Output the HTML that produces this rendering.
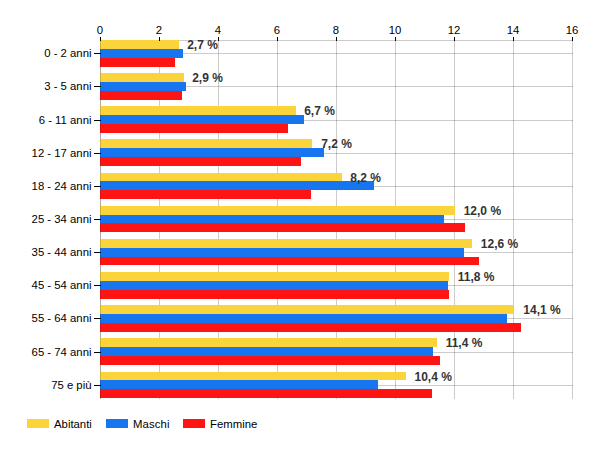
<!DOCTYPE html>
<html><head><meta charset="utf-8"><title>Chart</title>
<style>
html,body{margin:0;padding:0;background:#fff;}
body{width:600px;height:450px;overflow:hidden;font-family:"Liberation Sans",sans-serif;}
svg{display:block;}
svg text{font-family:"Liberation Sans",sans-serif;}
.ax{font-size:11.35px;fill:#000;}
.vl{font-size:12px;font-weight:bold;fill:#333;}
</style></head><body>
<svg width="600" height="450" viewBox="0 0 600 450">
<rect x="0" y="0" width="600" height="450" fill="#ffffff"/>
<g shape-rendering="crispEdges">
<rect x="100" y="40" width="473" height="1" fill="#000" fill-opacity="0.2"/>
<rect x="100" y="53" width="473" height="1" fill="#000" fill-opacity="0.2"/>
<rect x="100" y="86" width="473" height="1" fill="#000" fill-opacity="0.2"/>
<rect x="100" y="120" width="473" height="1" fill="#000" fill-opacity="0.2"/>
<rect x="100" y="153" width="473" height="1" fill="#000" fill-opacity="0.2"/>
<rect x="100" y="186" width="473" height="1" fill="#000" fill-opacity="0.2"/>
<rect x="100" y="219" width="473" height="1" fill="#000" fill-opacity="0.2"/>
<rect x="100" y="252" width="473" height="1" fill="#000" fill-opacity="0.2"/>
<rect x="100" y="285" width="473" height="1" fill="#000" fill-opacity="0.2"/>
<rect x="100" y="318" width="473" height="1" fill="#000" fill-opacity="0.2"/>
<rect x="100" y="352" width="473" height="1" fill="#000" fill-opacity="0.2"/>
<rect x="100" y="385" width="473" height="1" fill="#000" fill-opacity="0.2"/>
<rect x="100" y="40" width="1" height="359" fill="#000" fill-opacity="0.2"/>
<rect x="159" y="40" width="1" height="359" fill="#000" fill-opacity="0.2"/>
<rect x="218" y="40" width="1" height="359" fill="#000" fill-opacity="0.2"/>
<rect x="277" y="40" width="1" height="359" fill="#000" fill-opacity="0.2"/>
<rect x="336" y="40" width="1" height="359" fill="#000" fill-opacity="0.2"/>
<rect x="395" y="40" width="1" height="359" fill="#000" fill-opacity="0.2"/>
<rect x="454" y="40" width="1" height="359" fill="#000" fill-opacity="0.2"/>
<rect x="513" y="40" width="1" height="359" fill="#000" fill-opacity="0.2"/>
<rect x="572" y="40" width="1" height="359" fill="#000" fill-opacity="0.2"/>
<rect x="100" y="40" width="79" height="9" fill="#FAD43A"/>
<rect x="100" y="49" width="83" height="9" fill="#1875F0"/>
<rect x="100" y="58" width="75" height="9" fill="#FF1414"/>
<rect x="100" y="73" width="84" height="9" fill="#FAD43A"/>
<rect x="100" y="82" width="86" height="9" fill="#1875F0"/>
<rect x="100" y="91" width="82" height="9" fill="#FF1414"/>
<rect x="100" y="106" width="196" height="9" fill="#FAD43A"/>
<rect x="100" y="115" width="204" height="9" fill="#1875F0"/>
<rect x="100" y="124" width="188" height="9" fill="#FF1414"/>
<rect x="100" y="139" width="212" height="9" fill="#FAD43A"/>
<rect x="100" y="148" width="224" height="9" fill="#1875F0"/>
<rect x="100" y="157" width="201" height="9" fill="#FF1414"/>
<rect x="100" y="173" width="242" height="8" fill="#FAD43A"/>
<rect x="100" y="181" width="274" height="9" fill="#1875F0"/>
<rect x="100" y="190" width="211" height="9" fill="#FF1414"/>
<rect x="100" y="206" width="355" height="9" fill="#FAD43A"/>
<rect x="100" y="215" width="344" height="8" fill="#1875F0"/>
<rect x="100" y="223" width="365" height="9" fill="#FF1414"/>
<rect x="100" y="239" width="372" height="9" fill="#FAD43A"/>
<rect x="100" y="248" width="364" height="9" fill="#1875F0"/>
<rect x="100" y="257" width="379" height="8" fill="#FF1414"/>
<rect x="100" y="272" width="349" height="9" fill="#FAD43A"/>
<rect x="100" y="281" width="348" height="9" fill="#1875F0"/>
<rect x="100" y="290" width="349" height="9" fill="#FF1414"/>
<rect x="100" y="305" width="414" height="9" fill="#FAD43A"/>
<rect x="100" y="314" width="407" height="9" fill="#1875F0"/>
<rect x="100" y="323" width="421" height="9" fill="#FF1414"/>
<rect x="100" y="338" width="337" height="9" fill="#FAD43A"/>
<rect x="100" y="347" width="333" height="9" fill="#1875F0"/>
<rect x="100" y="356" width="340" height="9" fill="#FF1414"/>
<rect x="100" y="372" width="306" height="8" fill="#FAD43A"/>
<rect x="100" y="380" width="278" height="9" fill="#1875F0"/>
<rect x="100" y="389" width="332" height="9" fill="#FF1414"/>
<rect x="100" y="40" width="1" height="359" fill="#000" fill-opacity="0.16"/>
<rect x="100" y="37" width="1" height="4" fill="#000"/>
<rect x="159" y="37" width="1" height="4" fill="#000"/>
<rect x="218" y="37" width="1" height="4" fill="#000"/>
<rect x="277" y="37" width="1" height="4" fill="#000"/>
<rect x="336" y="37" width="1" height="4" fill="#000"/>
<rect x="395" y="37" width="1" height="4" fill="#000"/>
<rect x="454" y="37" width="1" height="4" fill="#000"/>
<rect x="513" y="37" width="1" height="4" fill="#000"/>
<rect x="572" y="37" width="1" height="4" fill="#000"/>
<rect x="94" y="53" width="7" height="1" fill="#000"/>
<rect x="94" y="86" width="7" height="1" fill="#000"/>
<rect x="94" y="120" width="7" height="1" fill="#000"/>
<rect x="94" y="153" width="7" height="1" fill="#000"/>
<rect x="94" y="186" width="7" height="1" fill="#000"/>
<rect x="94" y="219" width="7" height="1" fill="#000"/>
<rect x="94" y="252" width="7" height="1" fill="#000"/>
<rect x="94" y="285" width="7" height="1" fill="#000"/>
<rect x="94" y="318" width="7" height="1" fill="#000"/>
<rect x="94" y="352" width="7" height="1" fill="#000"/>
<rect x="94" y="385" width="7" height="1" fill="#000"/>
<rect x="27" y="419" width="22" height="9" fill="#FAD43A"/>
<rect x="106" y="419" width="22" height="9" fill="#1875F0"/>
<rect x="183" y="419" width="22" height="9" fill="#FF1414"/>
</g>
<text class="ax" x="100.0" y="34" text-anchor="middle">0</text>
<text class="ax" x="159.0" y="34" text-anchor="middle">2</text>
<text class="ax" x="218.0" y="34" text-anchor="middle">4</text>
<text class="ax" x="277.0" y="34" text-anchor="middle">6</text>
<text class="ax" x="336.0" y="34" text-anchor="middle">8</text>
<text class="ax" x="395.0" y="34" text-anchor="middle">10</text>
<text class="ax" x="454.0" y="34" text-anchor="middle">12</text>
<text class="ax" x="513.0" y="34" text-anchor="middle">14</text>
<text class="ax" x="572.0" y="34" text-anchor="middle">16</text>
<text class="ax" x="91.5" y="57.4" text-anchor="end">0 - 2 anni</text>
<text class="ax" x="91.5" y="90.4" text-anchor="end">3 - 5 anni</text>
<text class="ax" x="91.5" y="124.4" text-anchor="end">6 - 11 anni</text>
<text class="ax" x="91.5" y="157.4" text-anchor="end">12 - 17 anni</text>
<text class="ax" x="91.5" y="190.4" text-anchor="end">18 - 24 anni</text>
<text class="ax" x="91.5" y="223.4" text-anchor="end">25 - 34 anni</text>
<text class="ax" x="91.5" y="256.4" text-anchor="end">35 - 44 anni</text>
<text class="ax" x="91.5" y="289.4" text-anchor="end">45 - 54 anni</text>
<text class="ax" x="91.5" y="322.4" text-anchor="end">55 - 64 anni</text>
<text class="ax" x="91.5" y="356.4" text-anchor="end">65 - 74 anni</text>
<text class="ax" x="91.5" y="389.4" text-anchor="end">75 e più</text>
<text class="vl" x="187.2" y="48.5">2,7 %</text>
<text class="vl" x="192.2" y="81.5">2,9 %</text>
<text class="vl" x="304.2" y="114.5">6,7 %</text>
<text class="vl" x="321.2" y="147.5">7,2 %</text>
<text class="vl" x="350.3" y="181.5">8,2 %</text>
<text class="vl" x="463.7" y="214.5">12,0 %</text>
<text class="vl" x="480.8" y="247.5">12,6 %</text>
<text class="vl" x="457.8" y="280.5">11,8 %</text>
<text class="vl" x="523.3" y="313.5">14,1 %</text>
<text class="vl" x="445.7" y="346.5">11,4 %</text>
<text class="vl" x="414.5" y="380.5">10,4 %</text>
<text class="ax" x="54" y="428">Abitanti</text>
<text class="ax" x="133" y="428" letter-spacing="0.12">Maschi</text>
<text class="ax" x="210.1" y="428">Femmine</text>
</svg>
</body></html>
